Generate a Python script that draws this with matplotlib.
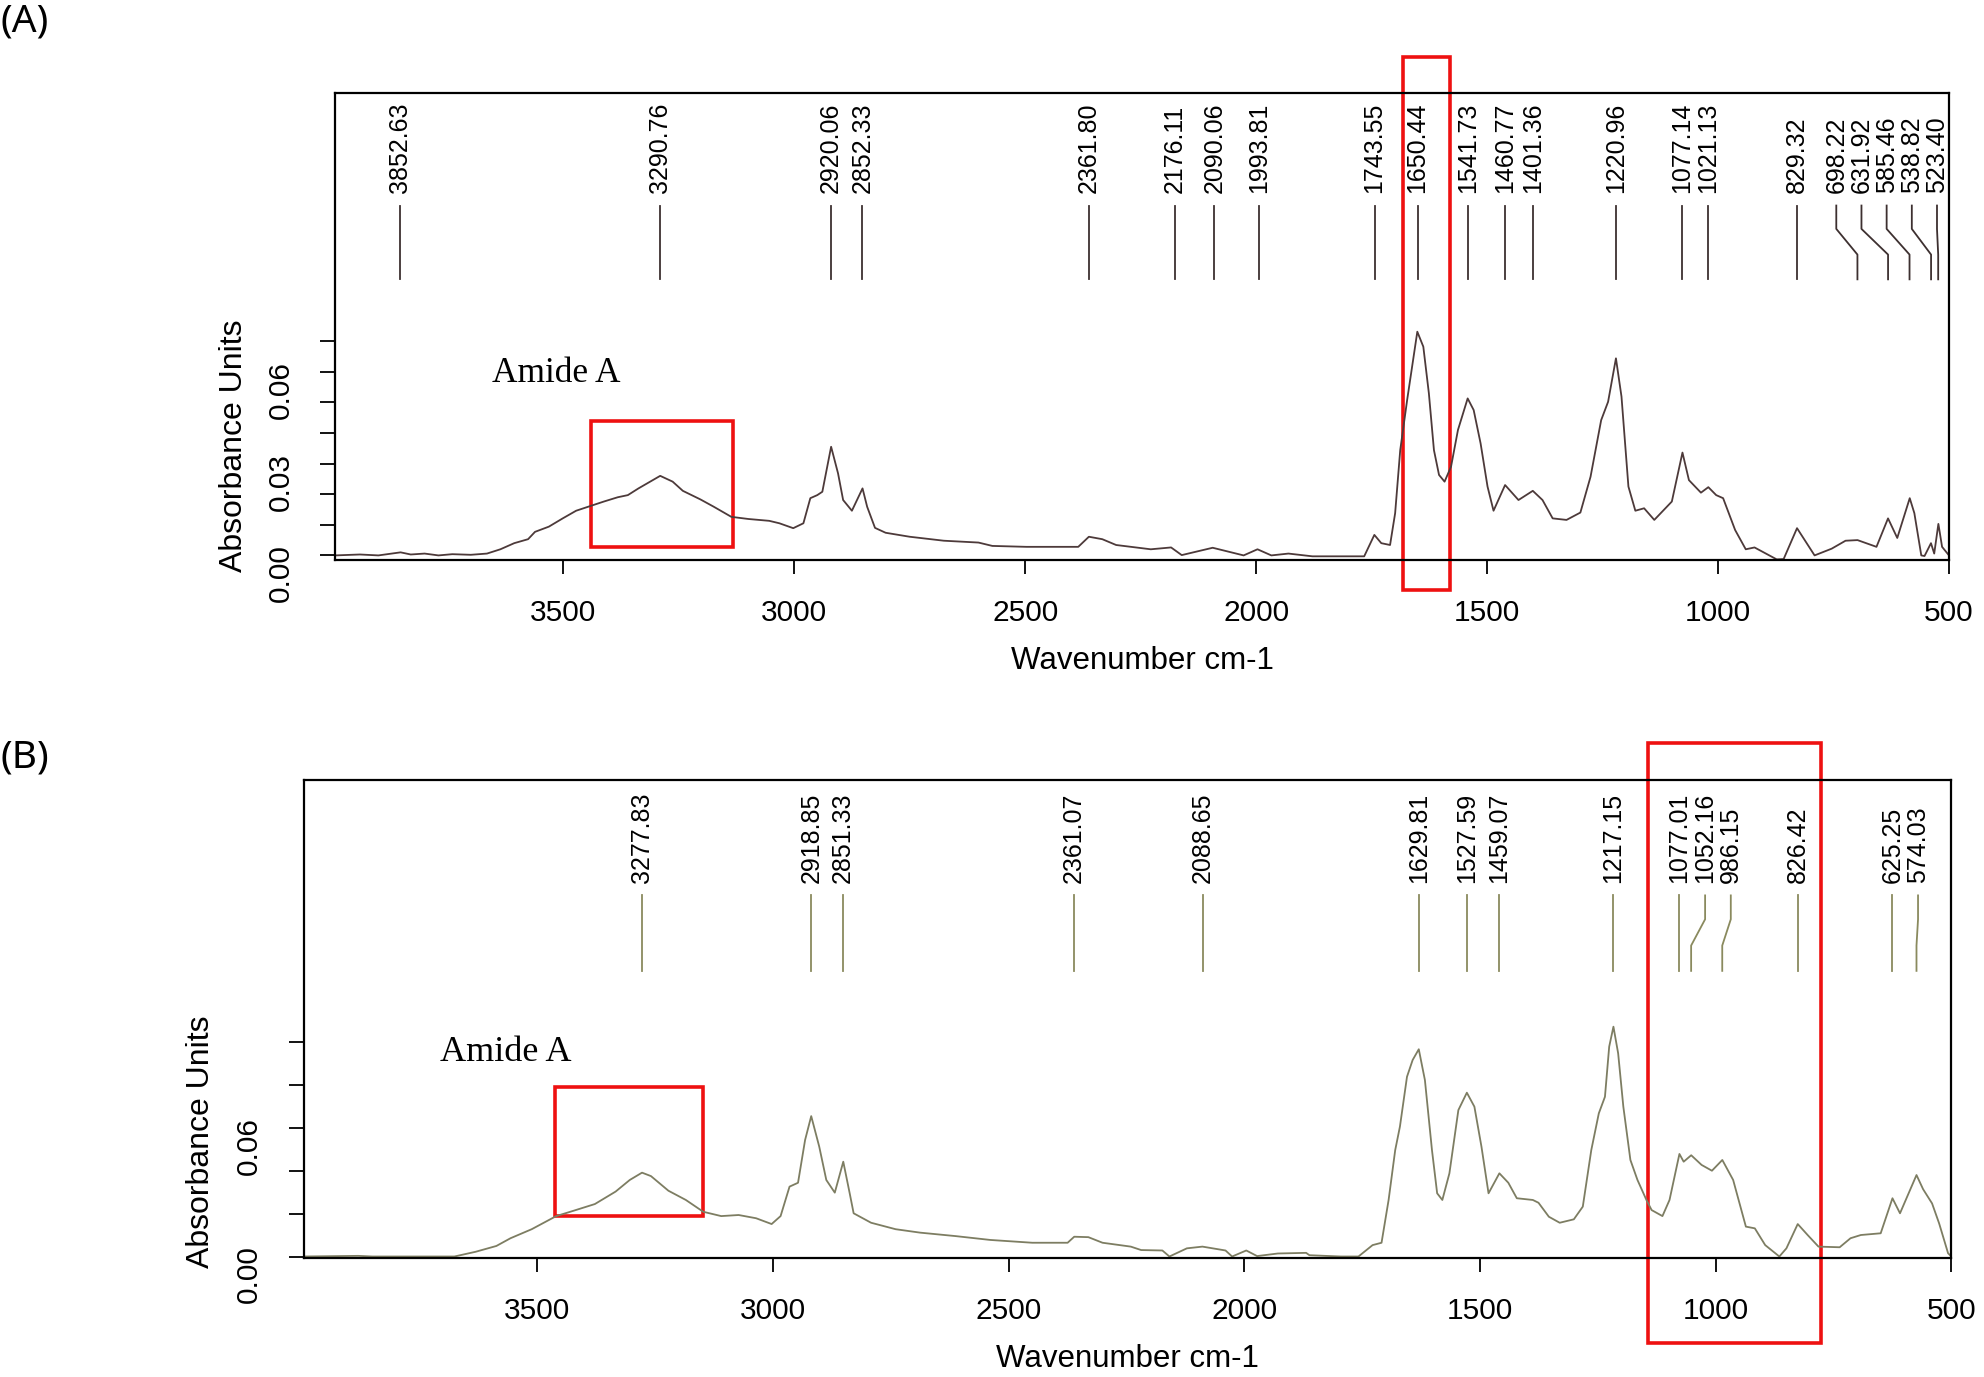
import matplotlib
matplotlib.use('Agg')
import matplotlib.pyplot as plt
from matplotlib.patches import Rectangle
from matplotlib.transforms import blended_transform_factory
import numpy as np

plt.rcParams['font.family'] = ['Liberation Sans', 'DejaVu Sans']

# ---- panel A spectrum (wavenumber cm-1, absorbance) ----
wn_a = [3994, 3940, 3900, 3852, 3830, 3800, 3770, 3740, 3700, 3665, 3636, 3606, 3576, 3561,
        3531, 3501, 3472, 3442, 3412, 3382, 3360, 3337, 3315, 3290, 3263, 3241, 3203, 3174,
        3136, 3099, 3054, 3032, 3002, 2980, 2965, 2950, 2939, 2920, 2905, 2894, 2875, 2852,
        2842, 2825, 2802, 2750, 2676, 2601, 2571, 2497, 2385, 2362, 2333, 2303, 2228, 2184,
        2161, 2094, 2027, 1997, 1967, 1930, 1878, 1766, 1744, 1729, 1710, 1699, 1688, 1673,
        1651, 1638, 1626, 1615, 1604, 1592, 1578, 1563, 1542, 1529, 1514, 1499, 1486, 1461,
        1432, 1401, 1380, 1358, 1328, 1298, 1276, 1253, 1238, 1221, 1209, 1194, 1179, 1160,
        1138, 1100, 1077, 1063, 1037, 1021, 1004, 989, 963, 940, 921, 873, 858, 829, 791,
        754, 724, 698, 657, 632, 612, 585, 575, 560, 553, 539, 532, 523, 515, 500]
abs_a = [0.0000, 0.0003, 0.0000, 0.0010, 0.0003, 0.0006, 0.0000, 0.0004, 0.0002, 0.0006,
         0.0020, 0.0040, 0.0053, 0.0077, 0.0094, 0.0121, 0.0146, 0.0161, 0.0176, 0.0190,
         0.0197, 0.0219, 0.0238, 0.0260, 0.0241, 0.0211, 0.0183, 0.0159, 0.0126, 0.0119,
         0.0113, 0.0105, 0.0089, 0.0105, 0.0187, 0.0197, 0.0208, 0.0355, 0.0268, 0.0181,
         0.0146, 0.0219, 0.0159, 0.0090, 0.0074, 0.0061, 0.0048, 0.0042, 0.0031, 0.0028,
         0.0028, 0.0061, 0.0053, 0.0034, 0.0020, 0.0026, 0.0001, 0.0025, 0.0000, 0.0020,
         0.0000, 0.0006, -0.0003, -0.0003, 0.0067, 0.0040, 0.0034, 0.0138, 0.0344, 0.0508,
         0.0731, 0.0682, 0.0530, 0.0344, 0.0263, 0.0241, 0.0290, 0.0410, 0.0513, 0.0475,
         0.0366, 0.0225, 0.0146, 0.0230, 0.0181, 0.0211, 0.0181, 0.0121, 0.0116, 0.0140,
         0.0257, 0.0442, 0.0502, 0.0644, 0.0519, 0.0225, 0.0146, 0.0154, 0.0116, 0.0176,
         0.0336, 0.0246, 0.0205, 0.0223, 0.0197, 0.0187, 0.0083, 0.0020, 0.0026, -0.0013,
         -0.0012, 0.0089, 0.0000, 0.0022, 0.0048, 0.0050, 0.0028, 0.0121, 0.0057, 0.0187,
         0.0138, 0.0000, -0.0002, 0.0040, 0.0006, 0.0103, 0.0028, 0.0000]
peaks_a = ['3852.63', '3290.76', '2920.06', '2852.33', '2361.80', '2176.11', '2090.06',
           '1993.81', '1743.55', '1650.44', '1541.73', '1460.77', '1401.36', '1220.96',
           '1077.14', '1021.13', '829.32', '698.22', '631.92', '585.46', '538.82', '523.40']

# ---- panel B spectrum ----
wn_b = [3996, 3880, 3850, 3676, 3631, 3587, 3557, 3512, 3460, 3423, 3378, 3334, 3304, 3278,
        3259, 3222, 3185, 3148, 3110, 3073, 3036, 3003, 2984, 2965, 2947, 2932, 2919, 2902,
        2887, 2869, 2851, 2837, 2829, 2792, 2740, 2688, 2613, 2539, 2450, 2375, 2361, 2331,
        2301, 2241, 2219, 2174, 2159, 2122, 2089, 2040, 2026, 1996, 1973, 1929, 1869, 1862,
        1795, 1758, 1728, 1709, 1694, 1680, 1670, 1655, 1643, 1630, 1617, 1602, 1591, 1580,
        1565, 1546, 1528, 1512, 1497, 1482, 1459, 1440, 1422, 1388, 1376, 1354, 1331, 1301,
        1282, 1264, 1248, 1235, 1226, 1217, 1207, 1196, 1181, 1166, 1147, 1136, 1113, 1098,
        1077, 1068, 1052, 1030, 1008, 986, 963, 936, 917, 895, 865, 850, 826, 805, 782, 737,
        714, 692, 650, 625, 609, 574, 560, 541, 526, 507, 500]
abs_b = [0.0000, 0.0003, 0.0000, 0.0000, 0.0022, 0.0049, 0.0085, 0.0127, 0.0188, 0.0213,
         0.0244, 0.0302, 0.0356, 0.0390, 0.0374, 0.0306, 0.0263, 0.0208, 0.0188, 0.0193,
         0.0178, 0.0151, 0.0188, 0.0325, 0.0343, 0.0542, 0.0653, 0.0511, 0.0356, 0.0297,
         0.0441, 0.0290, 0.0201, 0.0157, 0.0127, 0.0111, 0.0095, 0.0077, 0.0064, 0.0064,
         0.0092, 0.0090, 0.0064, 0.0046, 0.0030, 0.0028, 0.0000, 0.0038, 0.0046, 0.0028,
         0.0000, 0.0028, 0.0002, 0.0014, 0.0017, 0.0006, 0.0000, 0.0000, 0.0053, 0.0064,
         0.0263, 0.0495, 0.0604, 0.0836, 0.0914, 0.0964, 0.0821, 0.0495, 0.0294, 0.0263,
         0.0387, 0.0681, 0.0762, 0.0697, 0.0511, 0.0294, 0.0387, 0.0343, 0.0271, 0.0263,
         0.0250, 0.0185, 0.0157, 0.0173, 0.0232, 0.0495, 0.0666, 0.0743, 0.0976, 0.1069,
         0.0945, 0.0697, 0.0449, 0.0356, 0.0263, 0.0216, 0.0188, 0.0263, 0.0477, 0.0441,
         0.0471, 0.0426, 0.0399, 0.0449, 0.0356, 0.0139, 0.0131, 0.0053, 0.0000, 0.0038,
         0.0151, 0.0100, 0.0046, 0.0043, 0.0085, 0.0100, 0.0108, 0.0271, 0.0201, 0.0379,
         0.0313, 0.0247, 0.0154, 0.0015, 0.0000]
peaks_b = ['3277.83', '2918.85', '2851.33', '2361.07', '2088.65', '1629.81', '1527.59',
           '1459.07', '1217.15', '1077.01', '1052.16', '986.15', '826.42', '625.25', '574.03']

xticks = [3500, 3000, 2500, 2000, 1500, 1000, 500]


def spread(peaks, gap=54.5, edge=526.0):
    # push crowded peak labels apart, keeping them inside the plot
    pos = list(peaks)
    for i in range(1, len(pos)):
        pos[i] = min(pos[i], pos[i - 1] - gap)
    pos[-1] = max(pos[-1], edge)
    for i in range(len(pos) - 2, -1, -1):
        pos[i] = max(pos[i], pos[i + 1] + gap)
    return pos


def panel(ax, wn, ab, peaks, color, lcolor, xlim, ylim, ystep, ylabels):
    ax.plot(wn, ab, color=color, lw=1.3)
    ax.set_xlim(*xlim)
    ax.set_ylim(*ylim)
    ax.set_xticks(xticks)
    ax.set_xticklabels([str(t) for t in xticks])
    yt = np.arange(0, len(ylabels)) * ystep
    ax.set_yticks(yt)
    ax.set_yticklabels(ylabels)
    ax.tick_params(axis='both', direction='out', width=1.3, labelsize=21.5, pad=18)
    ax.tick_params(axis='x', length=10)
    ax.tick_params(axis='y', length=11, labelrotation=90)
    for s in ax.spines.values():
        s.set_linewidth(1.6)
    ax.set_xlabel('Wavenumber cm-1', fontsize=22.5, labelpad=14)
    ax.set_ylabel('Absorbance Units', fontsize=23, va='center')
    ax.yaxis.set_label_coords(-0.0625, 0.244)

    trans = blended_transform_factory(ax.transData, ax.transAxes)
    pk = [float(p) for p in peaks]
    pos = spread(pk)
    for p, q, lab in zip(pk, pos, peaks):
        if abs(p - q) < 0.5:
            ax.plot([p, p], [0.601, 0.759], color=lcolor, lw=1.3, transform=trans)
        else:
            ax.plot([q, q, p, p], [0.759, 0.709, 0.654, 0.601], color=lcolor, lw=1.3,
                    transform=trans)
        ax.text(q, 0.786, lab, rotation=90, ha='center', va='bottom', fontsize=18,
                transform=trans)


fig = plt.figure(figsize=(19.84, 13.77), dpi=100)

ax1 = fig.add_axes([0.16885, 0.59332, 0.81351, 0.33914])
panel(ax1, wn_a, abs_a, peaks_a, '#4d3a3a', '#3d3030', (3994, 500), (-0.0015, 0.1511),
      0.01, ['0.00', '', '', '0.03', '', '', '0.06', ''])
ax1.text(3654, 0.0568, 'Amide A', family='Liberation Serif', fontsize=25.5)
ax1.add_patch(Rectangle((3132, 0.0027), 308, 0.0411, fill=False, ec='#ee1111', lw=2.6))
ax1.add_patch(Rectangle((1580, -0.0113), 101, 0.1742, fill=False, ec='#ee1111', lw=2.6,
                        clip_on=False))

ax2 = fig.add_axes([0.15302, 0.08649, 0.83054, 0.34684])
panel(ax2, wn_b, abs_b, peaks_b, '#7d7d62', '#8a8a5e', (3996, 500), (-0.00065, 0.2215),
      0.02, ['0.00', '', '', '0.06', '', ''])
ax2.text(3707, 0.0909, 'Amide A', family='Liberation Serif', fontsize=26)
ax2.add_patch(Rectangle((3149, 0.0188), 313, 0.0599, fill=False, ec='#ee1111', lw=2.6))
ax2.add_patch(Rectangle((776, -0.0400), 367, 0.2787, fill=False, ec='#ee1111', lw=2.6,
                        clip_on=False))

fig.text(0.0, 1 - 3 / 1377, '(A)', ha='left', va='top', fontsize=28, family='Noto Sans')
fig.text(0.0, 1 - 738 / 1377, '(B)', ha='left', va='top', fontsize=28, family='Noto Sans')

fig.savefig('out.png', dpi=100)
